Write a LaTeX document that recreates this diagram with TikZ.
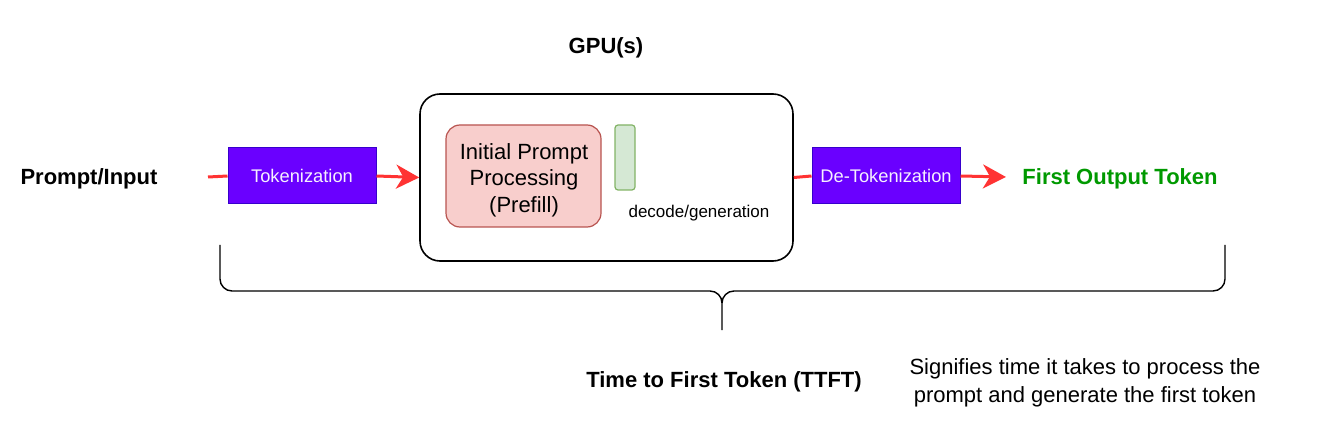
\documentclass[tikz,border=0pt]{standalone}
\usepackage{fontspec}
\setmainfont{Liberation Sans}
\usepackage{tikz}
\usetikzlibrary{arrows.meta,positioning,calc}
\definecolor{tokfill}{HTML}{6A00FF}
\definecolor{tokline}{HTML}{3700CC}
\definecolor{prefill}{HTML}{F8CECC}
\definecolor{prefline}{HTML}{B85450}
\definecolor{decfill}{HTML}{D5E8D4}
\definecolor{decline}{HTML}{82B366}
\definecolor{flowred}{HTML}{FF3333}
\definecolor{outgreen}{HTML}{009900}
\newcommand{\fsz}[2]{\fontsize{#1}{#2}\selectfont}

\begin{document}
\begin{tikzpicture}[
    x=1pt, y=-1pt,
    thick,
    label_node/.style={font=\fsz{22}{26}\bfseries, inner sep=0pt},
    tok_node/.style={draw=tokline, fill=tokfill, line width=1pt, minimum width=148pt, minimum height=56pt, inner sep=0pt, text=white!94!tokfill, font=\fsz{18.3}{21}},
    gpu_node/.style={draw=black, line width=1.6pt, rounded corners=20pt, minimum width=373pt, minimum height=167pt},
    prefill_node/.style={draw=prefline, fill=prefill, line width=1.2pt, rounded corners=14pt, minimum width=155pt, minimum height=102pt, inner sep=0pt},
    decode_node/.style={draw=decline, fill=decfill, line width=1.2pt, rounded corners=3pt, minimum width=20pt, minimum height=65pt, inner sep=0pt},
    flow_edge/.style={draw=flowred, line width=3pt},
    flow_arrow/.style={flow_edge, -{Stealth[length=23pt, width=24pt, inset=7pt]}},
    brace_line/.style={draw=black, line width=1.4pt}
]
\useasboundingbox (0,0) rectangle (1321,427);

% --- NODES ---
\node[label_node] (prompt) at (89,179) {Prompt/Input};
\coordinate (flow_start) at (208,177);
\node[tok_node] (tok) at (302,176) {\raisebox{-2pt}{Tokenization}};

\node[gpu_node] (gpu) at (606.5,177.5) {};
\node[label_node] (gpu_label) at (606,48) {GPU(s)};
\node[prefill_node] (prefill) at (523.5,176) {};
\node[align=center, inner sep=0pt, font=\fsz{22}{26.5}] (prefill_text) at (524,180) {Initial Prompt\\Processing\\(Prefill)};
\node[decode_node] (decode) at (625,157.5) {};
\node[inner sep=0pt, font=\fsz{17}{20}] (decode_label) at (699,213) {decode/generation};

\node[tok_node] (detok) at (886,176) {\raisebox{-2pt}{De-Tokenization}};
\coordinate (flow_end) at (1006,177);
\node[label_node, text=outgreen] (first) at (1120,179) {First Output Token};

% Brace under the whole path
\coordinate (brace_l) at (220,245);
\coordinate (brace_r) at (1225,245);
\coordinate (brace_tip) at (722,330);

\node[label_node] (ttft) at (724,382) {Time to First Token (TTFT)};
\node[inner sep=0pt, align=center, font=\fsz{22}{28}] (note) at (1085,383) {Signifies time it takes to process the\\prompt and generate the first token};

% --- EDGES ---
\draw[flow_edge] (flow_start) -- (tok.west);
\draw[flow_arrow] (tok.east) -- (gpu.west);
\draw[flow_edge] (gpu.east) -- (detok.west);
\draw[flow_arrow] (detok.east) -- (flow_end);

\draw[brace_line] (brace_l) -- (220,279) to[out=-90, in=180] (232,291) -- (710,291)
    to[out=0, in=90] (brace_tip |- 0,303) -- (brace_tip);
\draw[brace_line] (brace_r) -- (1225,279) to[out=-90, in=0] (1213,291) -- (734,291)
    to[out=180, in=90] (brace_tip |- 0,303);

\end{tikzpicture}
\end{document}
